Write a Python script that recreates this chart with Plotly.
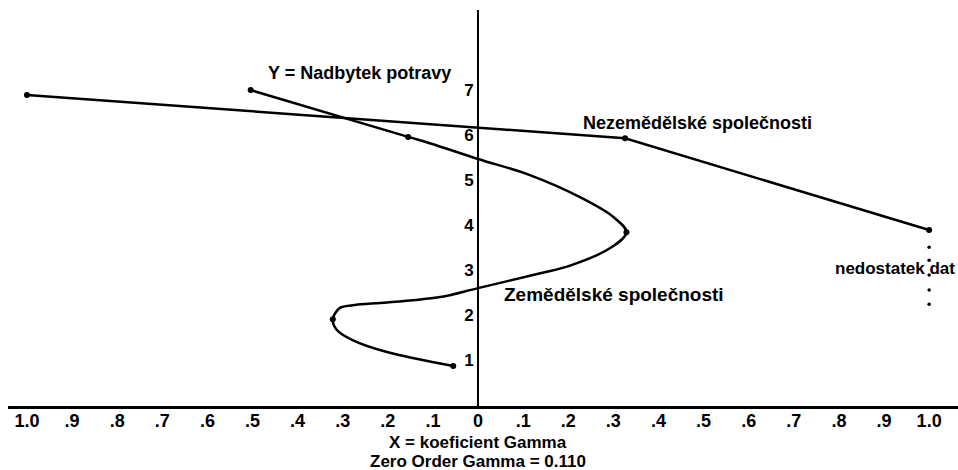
import plotly.graph_objects as go

# ---- data ----
x_tick_vals = [-1.0, -0.9, -0.8, -0.7, -0.6, -0.5, -0.4, -0.3, -0.2, -0.1, 0.0,
               0.1, 0.2, 0.3, 0.4, 0.5, 0.6, 0.7, 0.8, 0.9, 1.0]
x_tick_text = ["1.0", ".9", ".8", ".7", ".6", ".5", ".4", ".3", ".2", ".1", "0",
               ".1", ".2", ".3", ".4", ".5", ".6", ".7", ".8", ".9", "1.0"]
y_tick_vals = [1, 2, 3, 4, 5, 6, 7]
y_tick_text = ["1", "2", "3", "4", "5", "6", "7"]

# Zemědělské společnosti: traced curve
zem_curve_x = [-0.055, -0.202, -0.277, -0.313, -0.322, -0.306, -0.277, -0.202, -0.084,
               0.0, 0.138, 0.204, 0.293, 0.329, 0.300, 0.226, 0.115, 0.0,
               -0.107, -0.155, -0.504]
zem_curve_y = [0.87, 1.18, 1.44, 1.67, 1.91, 2.16, 2.22, 2.28, 2.40,
               2.60, 2.93, 3.10, 3.49, 3.84, 4.18, 4.62, 5.11, 5.47,
               5.82, 5.96, 7.00]
# Zemědělské společnosti: marked points
zem_pts_x = [-0.055, -0.322, 0.329, -0.155, -0.504]
zem_pts_y = [0.87, 1.91, 3.84, 5.96, 7.00]

# Nezemědělské společnosti
nezem_x = [-1.0, 0.326, 1.0]
nezem_y = [6.89, 5.93, 3.89]

# nedostatek dat (dotted continuation)
missing_x = [1.0, 1.0, 1.0, 1.0, 1.0]
missing_y = [3.51, 3.22, 2.89, 2.56, 2.24]

BOLD = "Liberation Sans, Arial, sans-serif"

fig = go.Figure()
fig.add_trace(go.Scatter(x=zem_curve_x, y=zem_curve_y, mode="lines",
                         line=dict(color="black", width=2.5, shape="spline", smoothing=1.0),
                         hoverinfo="skip", showlegend=False))
fig.add_trace(go.Scatter(x=zem_pts_x, y=zem_pts_y, mode="markers",
                         marker=dict(color="black", size=6), showlegend=False))
fig.add_trace(go.Scatter(x=nezem_x, y=nezem_y, mode="lines+markers",
                         line=dict(color="black", width=2.5),
                         marker=dict(color="black", size=6), showlegend=False))
fig.add_trace(go.Scatter(x=missing_x, y=missing_y, mode="markers",
                         marker=dict(color="black", size=3.5), showlegend=False))

annotations = [
    dict(x=-0.262, y=7.38, text="<b>Y = Nadbytek potravy</b>", showarrow=False,
         font=dict(family=BOLD, size=18, color="black"), xanchor="center", yanchor="middle"),
    dict(x=0.487, y=6.28, text="<b>Nezemědělské společnosti</b>", showarrow=False,
         font=dict(family=BOLD, size=18, color="black"), xanchor="center", yanchor="middle"),
    dict(x=0.053, y=2.45, text="<b>Zemědělské společnosti</b>", showarrow=False,
         font=dict(family=BOLD, size=19, color="black"), xanchor="left", yanchor="middle"),
    dict(x=1.062, y=3.04, text="<b>nedostatek dat</b>", showarrow=False,
         font=dict(family=BOLD, size=17, color="black"), xanchor="right", yanchor="middle"),
    dict(x=0.0, y=0, xref="x", yref="paper", text="<b>X = koeficient Gamma</b>",
         showarrow=False, yshift=-36,
         font=dict(family=BOLD, size=17, color="black"), xanchor="center", yanchor="middle"),
    dict(x=0.0, y=0, xref="x", yref="paper", text="<b>Zero Order Gamma = 0.110</b>",
         showarrow=False, yshift=-55,
         font=dict(family=BOLD, size=17, color="black"), xanchor="center", yanchor="middle"),
]

fig.update_layout(
    width=958, height=470,
    margin=dict(l=8, r=0, t=10, b=64, autoexpand=False),
    paper_bgcolor="white", plot_bgcolor="white",
    showlegend=False,
    annotations=annotations,
    xaxis=dict(range=[-1.042, 1.064], tickvals=x_tick_vals,
               ticktext=["<b>%s</b>" % t for t in x_tick_text],
               showgrid=False, zeroline=False, showline=True, linecolor="black",
               linewidth=3, ticks="", automargin=False, ticklabelstandoff=-4,
               tickfont=dict(family=BOLD, size=18, color="black"), fixedrange=True),
    yaxis=dict(range=[-0.02, 8.78], tickvals=y_tick_vals,
               ticktext=["<b>%s</b>" % t for t in y_tick_text],
               showgrid=False, zeroline=False, showline=True, linecolor="black",
               linewidth=2, ticks="", anchor="free", position=(478 - 8) / 950,
               automargin=False,
               tickfont=dict(family=BOLD, size=17, color="black"), fixedrange=True),
)

# remove the browser's default 8 px page margin so the 958x470 figure fills the window
fig.write_html("out.html", config={"displayModeBar": False},
               post_script="document.body.style.margin='0';document.body.style.overflow='hidden';")
